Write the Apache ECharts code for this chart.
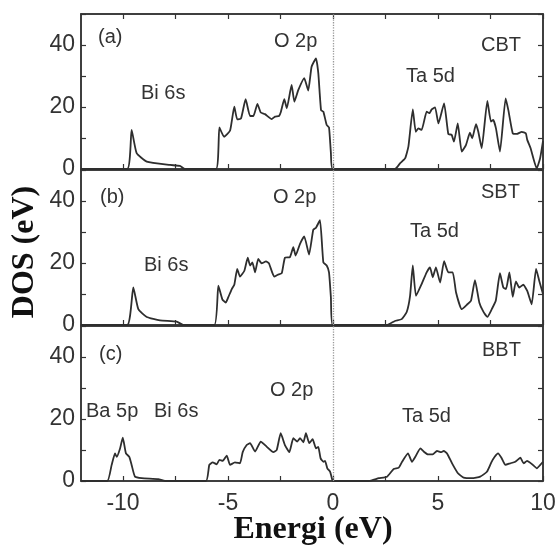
<!DOCTYPE html>
<html>
<head>
<meta charset="utf-8">
<script src="https://cdn.jsdelivr.net/npm/echarts@6/dist/echarts.min.js"></script>
<style>html,body{margin:0;padding:0;background:#fff}#c{width:560px;height:545px}</style>
</head>
<body>
<div id="c"></div>
<script>
// ---- data (energy eV, DOS) ----
const xTickValues = [-10, -7.5, -5, -2.5, 0, 2.5, 5, 7.5, 10];
const xLabelValues = [-10, -5, 0, 5, 10];
const panelNames = ['CBT', 'SBT', 'BBT'];
const panelTags = ['(a)', '(b)', '(c)'];

const dosCBT = [[-12,0],[-9.8,0],[-9.59,12.6],[-9.35,5.1],[-8.87,2.4],[-7.76,1.3],[-7.29,1.0],[-7.05,0],
[-5.57,0],[-5.41,13.4],[-5.19,10.4],[-4.90,12.4],[-4.70,20.1],[-4.56,16.0],[-4.38,16.3],[-4.16,22.5],[-3.95,17.1],[-3.79,17.1],[-3.60,21.0],[-3.44,18.2],[-3.24,17.7],[-2.92,16.1],[-2.76,16.9],[-2.57,17.1],[-2.48,18.5],[-2.32,22.5],[-2.20,19.6],[-1.97,27.1],[-1.84,21.7],[-1.65,25.5],[-1.37,29.3],[-1.18,25.3],[-1.02,33.0],[-0.81,35.7],[-0.70,30.9],[-0.57,19.0],[-0.46,18.5],[-0.30,14.2],[-0.19,13.4],[-0.10,5.2],[-0.02,0],
[2.95,0],[3.19,1.8],[3.43,3.4],[3.59,7.2],[3.80,19.2],[3.94,12.0],[4.06,13.1],[4.22,12.6],[4.46,18.5],[4.59,18.0],[4.70,19.2],[4.86,19.9],[5.02,14.7],[5.29,21.2],[5.49,11.3],[5.65,11.0],[5.76,8.8],[5.94,14.7],[6.13,5.6],[6.33,7.7],[6.52,11.7],[6.63,9.9],[6.81,14.5],[6.92,12.0],[7.08,6.7],[7.35,22.0],[7.52,15.3],[7.63,15.8],[7.76,13.1],[7.95,5.6],[8.22,22.8],[8.35,19.0],[8.56,11.5],[8.75,11.3],[8.99,12.0],[9.18,11.5],[9.25,9.4],[9.41,6.7],[9.70,0.2],[9.86,3.4],[10,9]];

const dosSBT = [[-12,0],[-9.8,0],[-9.51,12.1],[-9.27,5.1],[-8.87,2.6],[-8.24,1.5],[-7.44,1.1],[-7.13,0],
[-5.65,0],[-5.46,12.7],[-5.27,8.3],[-5.11,7.2],[-4.99,8.9],[-4.82,11.6],[-4.70,13.0],[-4.56,18.1],[-4.43,15.6],[-4.22,17.5],[-4.06,21.7],[-3.95,19.2],[-3.84,20.2],[-3.71,17.0],[-3.56,21.3],[-3.40,19.9],[-3.19,20.5],[-3.05,19.9],[-2.80,15.6],[-2.63,16.2],[-2.44,16.7],[-2.29,21.7],[-2.05,21.9],[-1.89,25.1],[-1.78,22.4],[-1.57,26.2],[-1.37,28.6],[-1.14,22.7],[-0.94,30.7],[-0.81,31.4],[-0.62,33.8],[-0.46,20.2],[-0.30,19.2],[-0.19,17.0],[-0.10,8.9],[-0.02,0],
[2.56,0],[2.95,1.3],[3.27,1.9],[3.51,4.2],[3.67,9.4],[3.80,19.2],[3.95,9.4],[4.22,13.2],[4.46,17.0],[4.62,18.6],[4.75,15.4],[4.90,18.6],[5.10,13.7],[5.29,20.6],[5.49,17.0],[5.70,17.0],[5.86,10.5],[6.13,5.1],[6.40,6.7],[6.57,7.8],[6.76,14.5],[6.97,7.2],[7.16,4.3],[7.35,2.6],[7.56,5.1],[7.75,7.8],[7.95,16.7],[8.11,12.1],[8.24,11.6],[8.40,17.0],[8.56,9.1],[8.71,14.1],[8.87,12.1],[9.06,13.0],[9.25,11.0],[9.46,6.7],[9.67,18.1],[9.82,14.3],[10,10.0]];

const dosBBT = [[-12,0],[-10.75,0],[-10.54,5.2],[-10.38,8.9],[-10.30,7.8],[-10.14,10.5],[-10.01,14.0],[-9.86,8.9],[-9.70,7.8],[-9.59,5.2],[-9.43,1.4],[-9.11,0.9],[-8.32,0.6],[-8.0,0],
[-6.05,0],[-5.89,5.2],[-5.73,6.0],[-5.54,5.4],[-5.41,6.8],[-5.25,6.5],[-5.06,8.2],[-4.90,5.2],[-4.67,6.0],[-4.43,5.7],[-4.30,9.3],[-4.11,11.6],[-3.95,12.2],[-3.71,9.5],[-3.44,12.7],[-3.16,11.1],[-2.84,9.3],[-2.68,10.0],[-2.49,15.4],[-2.29,11.6],[-2.08,9.3],[-1.89,13.8],[-1.70,12.7],[-1.57,13.8],[-1.41,12.5],[-1.29,15.4],[-1.13,12.2],[-0.97,13.5],[-0.81,10.5],[-0.70,11.0],[-0.59,7.3],[-0.46,6.2],[-0.38,6.5],[-0.27,4.1],[-0.14,3.0],[-0.03,0.3],[0,0],
[1.70,0],[2.18,0.9],[2.57,1.4],[2.89,3.9],[3.13,4.3],[3.29,6.2],[3.57,8.9],[3.76,6.2],[3.92,7.8],[4.16,10.5],[4.32,9.5],[4.52,8.6],[4.75,8.6],[4.95,9.7],[5.16,9.3],[5.27,9.7],[5.43,8.9],[5.67,5.7],[5.95,2.5],[6.22,1.1],[6.62,0.9],[7.01,1.4],[7.33,3.0],[7.54,6.0],[7.70,7.8],[7.86,8.9],[8.02,7.5],[8.21,5.2],[8.44,5.7],[8.68,6.2],[8.92,7.5],[9.08,5.7],[9.24,6.5],[9.48,5.4],[9.71,4.1],[9.87,5.2],[10,6.2]];

const allDos = [dosCBT, dosSBT, dosBBT];

// ---- layout ----
const grids = [
  {left: 81, right: 17, top: 14, height: 155},
  {left: 81, right: 17, top: 170, height: 155},
  {left: 81, right: 17, top: 326, height: 155}
];
const ink = '#333';
const sans = 'Liberation Sans, Arial, sans-serif';
const serif = 'Liberation Serif, Times New Roman, serif';

const xAxes = [], yAxes = [], series = [];
grids.forEach((g, i) => {
  g.show = true; g.borderColor = ink; g.borderWidth = 1.5; g.backgroundColor = 'transparent';
  xAxes.push({
    type: 'value', gridIndex: i, min: -12, max: 10, position: 'bottom',
    axisLine: {show: true, onZero: false, lineStyle: {color: ink, width: 1.5}},
    axisTick: {show: true, inside: true, length: 5, customValues: xTickValues, lineStyle: {color: ink, width: 1.2}},
    axisLabel: {show: i === 2, customValues: xLabelValues, fontSize: 23, color: ink, fontFamily: sans, margin: 11},
    splitLine: {show: false}
  });
  xAxes.push({
    type: 'value', gridIndex: i, min: -12, max: 10, position: 'top',
    axisLine: {show: true, onZero: false, lineStyle: {color: ink, width: 1.5}},
    axisTick: {show: i === 0, inside: true, length: 5, customValues: xTickValues, lineStyle: {color: ink, width: 1.2}},
    axisLabel: {show: false}, splitLine: {show: false}
  });
  yAxes.push({
    type: 'value', gridIndex: i, min: 0, max: 50, interval: 10, position: 'left',
    axisLine: {show: true, onZero: false, lineStyle: {color: ink, width: 1.5}},
    axisTick: {show: true, inside: true, length: 5, lineStyle: {color: ink, width: 1.2}},
    axisLabel: {fontSize: 23, color: ink, fontFamily: sans, margin: 6,
      formatter: v => (v % 20 === 0 && v < 50) ? String(v) : ''},
    splitLine: {show: false}
  });
  yAxes.push({
    type: 'value', gridIndex: i, min: 0, max: 50, interval: 10, position: 'right',
    axisLine: {show: true, onZero: false, lineStyle: {color: ink, width: 1.5}},
    axisTick: {show: true, inside: true, length: 5, lineStyle: {color: ink, width: 1.2}},
    axisLabel: {show: false}, splitLine: {show: false}
  });
  series.push({
    type: 'line', xAxisIndex: 2 * i, yAxisIndex: 2 * i, data: allDos[i],
    showSymbol: false, symbol: 'none', smooth: 0.15,
    lineStyle: {color: '#2e2e2e', width: 1.8},
    markLine: {silent: true, symbol: 'none', label: {show: false},
      lineStyle: {type: 'dotted', color: '#999', width: 1.3}, data: [{xAxis: 0}]}
  });
});

function txt(x, y, s, opts) {
  return Object.assign({type: 'text', x: x, y: y, style: Object.assign({
    text: s, fill: ink, font: '20px ' + sans, textVerticalAlign: 'middle', textAlign: 'left'}, opts || {})});
}
const graphics = [
  txt(98, 37, panelTags[0]), txt(141, 93, 'Bi 6s'), txt(274, 41, 'O 2p'), txt(481, 45, panelNames[0]), txt(406, 76, 'Ta 5d'),
  txt(100, 197, panelTags[1]), txt(144, 265, 'Bi 6s'), txt(273, 197, 'O 2p'), txt(481, 192, panelNames[1]), txt(410, 231, 'Ta 5d'),
  txt(99, 354, panelTags[2]), txt(86, 411, 'Ba 5p'), txt(154, 411, 'Bi 6s'), txt(270, 390, 'O 2p'), txt(482, 350, panelNames[2]), txt(402, 416, 'Ta 5d'),
  {type: 'text', x: 313, y: 530, style: {text: 'Energi (eV)', fill: '#111', font: 'bold 32px ' + serif, textAlign: 'center', textVerticalAlign: 'middle'}},
  {type: 'text', x: 25, y: 252, rotation: Math.PI / 2, style: {text: 'DOS (eV)', fill: '#111', font: 'bold 32px ' + serif, textAlign: 'center', textVerticalAlign: 'middle'}}
];

const chart = echarts.init(document.getElementById('c'), null, {renderer: 'canvas'});
chart.setOption({
  animation: false,
  backgroundColor: '#fff',
  grid: grids, xAxis: xAxes, yAxis: yAxes, series: series, graphic: graphics
});
</script>
</body>
</html>
